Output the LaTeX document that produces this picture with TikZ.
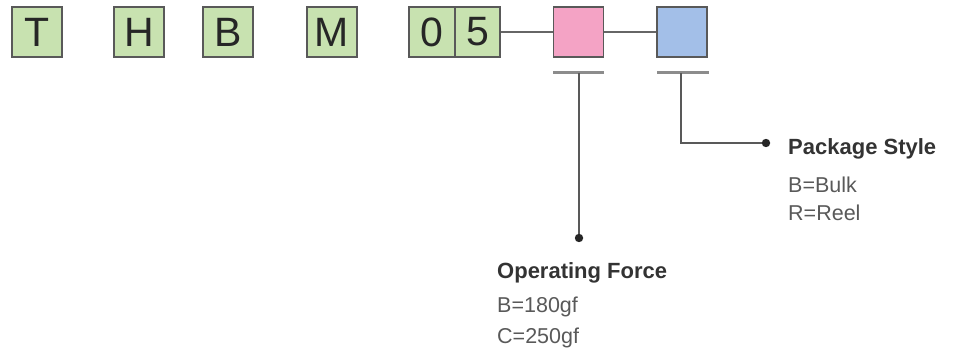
\documentclass[tikz,border=0pt]{standalone}
\usepackage{fontspec}
\setmainfont{Liberation Sans}
\begin{document}
\begin{tikzpicture}[x=1pt,y=-1pt,
  code/.style={draw=black!65,line width=1.6pt,minimum width=50pt,minimum height=50pt,inner sep=0pt,font=\fontsize{41}{41}\selectfont,text=black!85},
  codebox/.style={draw=black!65,line width=1.6pt,minimum width=50pt,minimum height=50pt,inner sep=0pt},
  link/.style={draw=black!60,line width=1.8pt},
  bar/.style={draw=black!45,line width=3pt},
  lead/.style={draw=black!65,line width=1.8pt},
  title/.style={anchor=base west,inner sep=0pt,font=\fontsize{22}{24}\selectfont\bfseries,text=black!80},
  val/.style={anchor=base west,inner sep=0pt,font=\fontsize{21.5}{24}\selectfont,text=black!65}]
\useasboundingbox (0,0) rectangle (955,363);
\definecolor{codegreen}{HTML}{C8E2B0}
\definecolor{codepink}{HTML}{F4A3C5}
\definecolor{codeblue}{HTML}{A3BFE8}
\tikzset{code/.append style={fill=codegreen}}
\node[code] (T) at (37,32) {T};
\node[code] (H) at (139,32) {H};
\node[code] (B) at (228,32) {B};
\node[code] (M) at (332,32) {M};
\node[code,minimum width=46pt] (d0) at (432,32) {0};
\node[code,minimum width=45pt] (d5) at (477.5,32) {5};
\node[codebox,fill=codepink] (pink) at (578.5,32) {};
\node[codebox,fill=codeblue] (blue) at (682,32) {};
\draw[link] (d5.east) -- (pink.west);
\draw[link] (pink.east) -- (blue.west);
% under-bars
\coordinate (pbL) at (553,73);
\coordinate (pbR) at (604,73);
\coordinate (pbM) at (579,73);
\coordinate (bbL) at (657,73);
\coordinate (bbR) at (709,73);
\coordinate (bbM) at (681,73);
\draw[bar] (pbL) -- (pbR);
\draw[bar] (bbL) -- (bbR);
\coordinate (dotA) at (579,238);
\coordinate (bend) at (681,143);
\coordinate (dotB) at (766,143);
\draw[lead] (pbM) -- (dotA);
\draw[lead] (bbM) -- (bend) -- (dotB);
\fill[black!85] (dotA) circle (4.2pt);
\fill[black!85] (dotB) circle (4.2pt);
% texts
\node[title] (opT) at (497,278) {Operating Force};
\node[val] (opB) at (497,312) {B=180gf};
\node[val] (opC) at (497,343) {C=250gf};
\node[title] (pkT) at (788,155) {Package Style};
\node[val] (pkB) at (788,193) {B=Bulk};
\node[val] (pkR) at (788,221) {R=Reel};
\end{tikzpicture}
\end{document}
